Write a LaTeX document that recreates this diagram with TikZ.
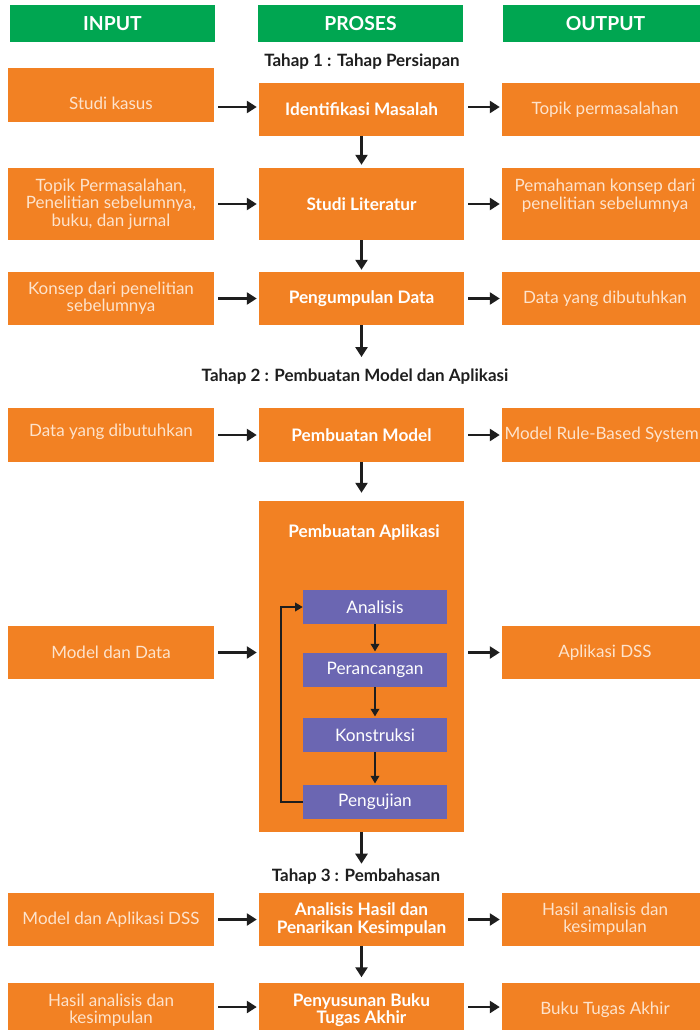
\documentclass[tikz,border=0pt]{standalone}
\usepackage{fontspec}
\setmainfont{Lato}
\usepackage{xcolor}
\usepackage{tikz}
\usetikzlibrary{arrows.meta, positioning}

\definecolor{boxorange}{HTML}{F28123}
\definecolor{headgreen}{HTML}{00A651}
\definecolor{subpurple}{HTML}{6B66B2}
\definecolor{arrowdark}{HTML}{1E1E1E}
\definecolor{lighttext}{HTML}{FDE3CC}

\begin{document}
\begin{tikzpicture}[
    x=0.3mm, y=-0.3mm,
    head/.style={rectangle, fill=headgreen, text=white, minimum width=61.5mm, minimum height=11.1mm, inner sep=0pt, align=center, font=\fontsize{16.5}{19}\selectfont\bfseries},
    inbox/.style={rectangle, fill=boxorange, text=lighttext, minimum width=61.8mm, inner sep=0pt, align=center, font=\fontsize{14.5}{14.8}\selectfont},
    procbox/.style={rectangle, fill=boxorange, text=white, minimum width=61.5mm, inner sep=0pt, align=center, font=\fontsize{14.7}{14.8}\selectfont\bfseries},
    boxtitle/.style={inner sep=0pt, text=white, font=\fontsize{14.7}{14.8}\selectfont\bfseries},
    subbox/.style={rectangle, fill=subpurple, text=white, minimum width=43.2mm, minimum height=10.2mm, inner sep=0pt, align=center, font=\fontsize{14.7}{16}\selectfont},
    stage/.style={inner sep=0pt, text=arrowdark, font=\fontsize{14.5}{16}\selectfont\bfseries},
    arrow/.style={-{Triangle[length=3mm, width=3.6mm]}, line width=0.75mm, draw=arrowdark},
    subarrow/.style={-{Triangle[length=2.3mm, width=2.6mm]}, line width=0.5mm, draw=arrowdark}
]

\useasboundingbox[fill=white] (0,0) rectangle (700,1030);

%% ── Column headers ───────────────────────────────────────────────────
\node[head] (hin)  at (112.5,23.5) {INPUT};
\node[head] (hpro) at (360.5,23.5) {PROSES};
\node[head] (hout) at (605.5,23.5) {OUTPUT};

%% ── Tahap 1 : Tahap Persiapan ────────────────────────────────────────
\node[stage] (tahap1) at (362,62) {Tahap 1 : Tahap Persiapan};

\node[inbox, minimum height=16.2mm]   (in1)  at (111,95)    {\raisebox{-2.4mm}[\height][\depth]{Studi kasus}};
\node[procbox, minimum height=15.9mm] (pro1) at (361.5,109.5) {Identifikasi Masalah};
\node[inbox, minimum height=15.9mm]   (out1) at (605,109.5) {Topik permasalahan};

\node[inbox, minimum height=21.6mm]   (in2)  at (111,204)   {Topik Permasalahan,\\Penelitian sebelumnya,\\buku, dan jurnal};
\node[procbox, minimum height=21.6mm] (pro2) at (361.5,204) {Studi Literatur};
\node[inbox, minimum height=21.6mm]   (out2) at (605,204)   {\raisebox{2.2mm}[\height][\depth]{\begin{tabular}{@{}c@{}}Pemahaman konsep dari\\penelitian sebelumnya\end{tabular}}};

\node[inbox, minimum height=15.9mm]   (in3)  at (111,298.5)   {Konsep dari penelitian\\sebelumnya};
\node[procbox, minimum height=15.9mm] (pro3) at (361.5,298.5) {Pengumpulan Data};
\node[inbox, minimum height=15.9mm]   (out3) at (605,298.5)   {Data yang dibutuhkan};

%% ── Tahap 2 : Pembuatan Model dan Aplikasi ───────────────────────────
\node[stage] (tahap2) at (355,377) {Tahap 2 : Pembuatan Model dan Aplikasi};

\node[inbox, minimum height=16.2mm]   (in4)  at (111,435)   {\raisebox{1.0mm}[\height][\depth]{Data yang dibutuhkan}};
\node[procbox, minimum height=16.2mm] (pro4) at (361.5,435) {Pembuatan Model};
\node[inbox, minimum height=16.2mm]   (out4) at (605,435)   {Model Rule-Based System\hspace*{2mm}};

%% big box with the development cycle inside
\node[procbox, minimum height=99.3mm] (app) at (361.5,666.5) {};
\node[boxtitle] (apptitle) at (364,533) {Pembuatan Aplikasi};

\node[subbox] (ana)  at (375,607) {Analisis};
\node[subbox] (ranc) at (375,670) {Perancangan};
\node[subbox] (kons) at (375,735) {Konstruksi};
\node[subbox] (uji)  at (375,802) {Pengujian};

\node[inbox, minimum height=15.9mm] (in5)  at (111,652.5) {Model dan Data};
\node[inbox, minimum height=15.9mm] (out5) at (605,652.5) {Aplikasi DSS};

%% ── Tahap 3 : Pembahasan ─────────────────────────────────────────────
\node[stage] (tahap3) at (356,877) {Tahap 3 : Pembahasan};

\node[inbox, minimum height=15.9mm]   (in6)  at (111,919.5)   {Model dan Aplikasi DSS};
\node[procbox, minimum height=15.9mm] (pro6) at (361.5,919.5) {Analisis Hasil dan\\Penarikan Kesimpulan};
\node[inbox, minimum height=15.9mm]   (out6) at (605,919.5)   {Hasil analisis dan\\kesimpulan};

\node[inbox, minimum height=16.5mm]   (in7)  at (111,1010)   {Hasil analisis dan\\kesimpulan};
\node[procbox, minimum height=16.5mm] (pro7) at (361.5,1010) {Penyusunan Buku\\Tugas Akhir};
\node[inbox, minimum height=16.5mm]   (out7) at (605,1010)   {Buku Tugas Akhir};

%% ── Arrows ───────────────────────────────────────────────────────────

%% Input -> Proses -> Output (horizontal)
\draw[arrow, shorten <=1.2mm, shorten >=0.6mm] (in1.east |- 0,107) -- (pro1.west |- 0,107);
\draw[arrow, shorten <=1.2mm, shorten >=0.6mm] (pro1.east |- 0,107) -- (out1.west |- 0,107);
\foreach \r in {2,3,4,6} {
  \draw[arrow, shorten <=1.2mm, shorten >=0.6mm] (in\r.east) -- (pro\r.west);
  \draw[arrow, shorten <=1.2mm, shorten >=0.6mm] (pro\r.east) -- (out\r.west);
}
\draw[arrow, shorten <=1.2mm, shorten >=0.6mm] (in5.east) -- (in5.east -| app.west);
\draw[arrow, shorten <=1.2mm, shorten >=0.6mm] (out5.west -| app.east) -- (out5.west);
\draw[arrow, shorten <=1.2mm, shorten >=0.6mm] (in7.east |- 0,1007) -- (pro7.west |- 0,1007);
\draw[arrow, shorten <=1.2mm, shorten >=0.6mm] (pro7.east |- 0,1007) -- (out7.west |- 0,1007);

%% Proses column (vertical)
\draw[arrow, shorten >=0.9mm] (pro1.south) -- (pro2.north);
\draw[arrow, shorten >=0.6mm] (pro2.south) -- (pro3.north);
\draw[arrow, shorten >=3.6mm] (pro3.south) -- (pro3.south |- tahap2.north);
\draw[arrow, shorten >=2.4mm] (pro4.south) -- (app.north);
\draw[arrow, shorten >=1.6mm] (app.south) -- (app.south |- tahap3.north);
\draw[arrow, shorten >=1.5mm] (pro6.south) -- (pro7.north);

%% Development cycle inside Pembuatan Aplikasi
\draw[subarrow, shorten >=0.4mm] (ana.south)  -- (ranc.north);
\draw[subarrow, shorten >=0.4mm] (ranc.south) -- (kons.north);
\draw[subarrow, shorten >=0.4mm] (kons.south) -- (uji.north);
\draw[subarrow] (uji.west) -- ++(-22,0) |- (ana.west);

\end{tikzpicture}
\end{document}
